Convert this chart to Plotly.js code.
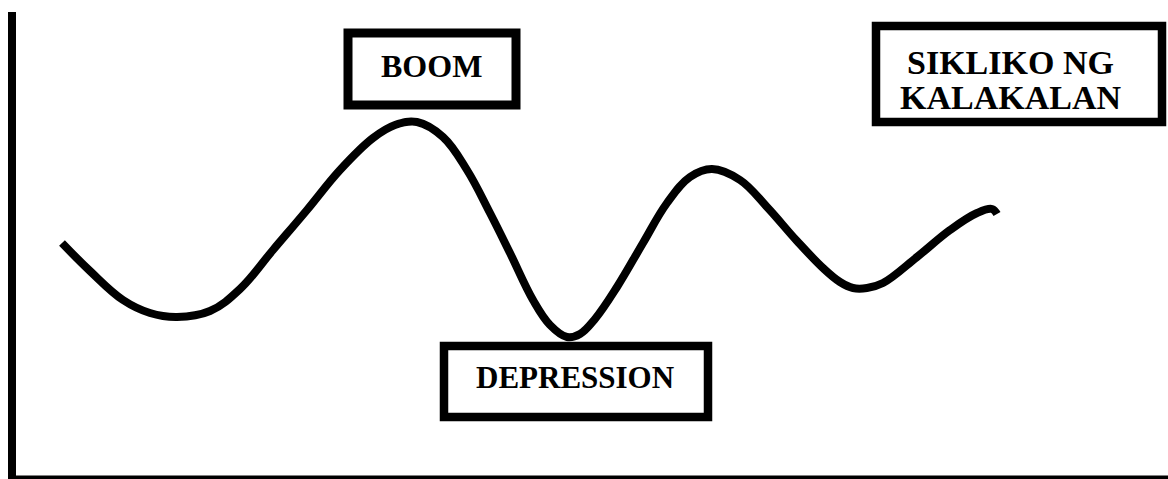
<!DOCTYPE html>
<html>
<head>
<meta charset="utf-8">
<script src="https://cdn.plot.ly/plotly-3.0.1.min.js"></script>
<style>
  html, body { margin: 0; padding: 0; background: #fff; }
  #chart { width: 1168px; height: 479px; }
</style>
</head>
<body>
<div id="chart"></div>
<script>
// Business cycle curve (time vs. economic activity level)
const cycleTime = [62, 90, 123, 150, 177, 210, 240, 273, 307, 340, 373, 395, 417, 443, 467, 490, 510, 533, 550, 567, 580, 595, 617, 643, 667, 690, 712, 740, 767, 797, 823, 840, 853, 867, 883, 917, 950, 977, 992, 997];
const cycleLevel = [236, 208, 179, 166, 162, 168, 190, 229, 269, 309, 341, 354, 357, 342, 309, 266, 226, 179, 154, 142, 145, 160, 192, 236, 276, 302, 310, 299, 272, 238, 211, 197, 191, 191, 196, 222, 249, 266, 270, 265];

const labelBoom = "BOOM";
const labelDepression = "DEPRESSION";
const titleLines = ["SIKLIKO NG", "KALAKALAN"];

const H = 479;
const serif = "'Liberation Serif', 'Times New Roman', serif";

const trace = {
  x: cycleTime,
  y: cycleLevel,
  type: "scatter",
  mode: "lines",
  line: { color: "#000", width: 8, shape: "spline", smoothing: 1.1 },
  hoverinfo: "skip",
  showlegend: false
};

function box(x0, y0, x1, y1, w) {
  return {
    type: "rect", xref: "x", yref: "y",
    x0: x0, x1: x1, y0: H - y0, y1: H - y1,
    line: { color: "#000", width: w }, fillcolor: "rgba(0,0,0,0)"
  };
}

const layout = {
  width: 1168, height: 479,
  margin: { l: 0, r: 0, t: 0, b: 0 },
  paper_bgcolor: "#fff", plot_bgcolor: "#fff",
  xaxis: { range: [0, 1168], visible: false, fixedrange: true },
  yaxis: { range: [0, H], visible: false, fixedrange: true },
  shapes: [
    // vertical axis
    { type: "rect", xref: "x", yref: "y", x0: 8, x1: 16, y0: 0, y1: H - 12,
      line: { width: 0 }, fillcolor: "#000" },
    // horizontal axis
    { type: "rect", xref: "x", yref: "y", x0: 8, x1: 1168, y0: 0, y1: 3.5,
      line: { width: 0 }, fillcolor: "#000" },
    box(348, 33, 516, 105, 9),
    box(876, 26, 1162, 122, 8.5),
    box(444, 346, 708, 417, 8.5)
  ],
  annotations: [
    { x: 431.5, y: H - 66, xref: "x", yref: "y", text: "<b>" + labelBoom + "</b>",
      showarrow: false, xanchor: "center", yanchor: "middle",
      font: { family: serif, size: 32, color: "#000" } },
    { x: 575, y: H - 377, xref: "x", yref: "y", text: "<b>" + labelDepression + "</b>",
      showarrow: false, xanchor: "center", yanchor: "middle",
      font: { family: serif, size: 31, color: "#000" } },
    { x: 1010, y: H - 62, xref: "x", yref: "y", text: "<b>" + titleLines[0] + "</b>",
      showarrow: false, xanchor: "center", yanchor: "middle",
      font: { family: serif, size: 34, color: "#000" } },
    { x: 1010, y: H - 97.5, xref: "x", yref: "y", text: "<b>" + titleLines[1] + "</b>",
      showarrow: false, xanchor: "center", yanchor: "middle",
      font: { family: serif, size: 34, color: "#000" } }
  ]
};

Plotly.newPlot("chart", [trace], layout, { staticPlot: true, displayModeBar: false });
</script>
</body>
</html>
